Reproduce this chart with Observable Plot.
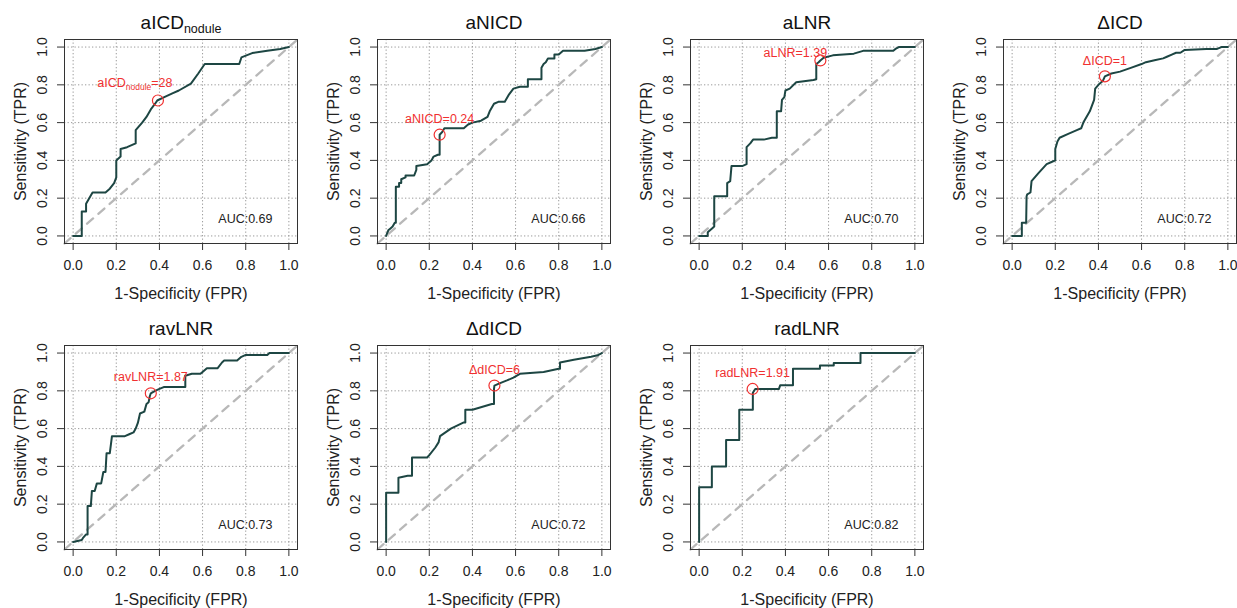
<!DOCTYPE html>
<html><head><meta charset="utf-8">
<script src="https://cdn.jsdelivr.net/npm/d3@7"></script>
<script src="https://cdn.jsdelivr.net/npm/@observablehq/plot@0.6"></script>
<style>
html,body{margin:0;padding:0;background:#fff;overflow:hidden;}
#wrap{position:relative;width:1237px;height:608px;overflow:hidden;font-family:"Liberation Sans",Arial,sans-serif;}
.panel{position:absolute;width:313px;height:302px;}
.panel svg{max-width:none !important;}
</style></head><body><div id="wrap"></div>
<script>
// ---- data ----
const titles = ["aICD", "aNICD", "aLNR", "ΔICD", "ravLNR", "ΔdICD", "radLNR"];
const titleSubscripts = ["nodule", "", "", "", "", "", ""];
const cutoffValues = ["28", "0.24", "1.39", "1", "1.87", "6", "1.91"];
const aucValues = [0.69, 0.66, 0.70, 0.72, 0.73, 0.72, 0.82];
const xTicks = [0, 0.2, 0.4, 0.6, 0.8, 1.0];
const yTicks = [0, 0.2, 0.4, 0.6, 0.8, 1.0];
const xLabel = "1-Specificity (FPR)";
const yLabel = "Sensitivity (TPR)";

// ROC curves: [FPR, TPR]
const rocAICDnodule = [[0,0],[0.04,0],[0.04,0.13],[0.06,0.13],[0.06,0.17],[0.07,0.19],[0.08,0.21],[0.09,0.23],[0.15,0.23],[0.17,0.25],[0.19,0.28],[0.20,0.31],[0.20,0.40],[0.22,0.42],[0.22,0.46],[0.25,0.47],[0.29,0.49],[0.29,0.56],[0.32,0.60],[0.34,0.63],[0.36,0.67],[0.38,0.70],[0.39,0.717],[0.42,0.734],[0.46,0.755],[0.49,0.77],[0.546,0.806],[0.58,0.86],[0.61,0.91],[0.77,0.91],[0.78,0.945],[0.83,0.968],[0.90,0.98],[0.96,0.99],[1,1]];
const rocANICD = [[0,0],[0.01,0.03],[0.02,0.04],[0.03,0.05],[0.04,0.07],[0.045,0.07],[0.045,0.26],[0.06,0.26],[0.06,0.28],[0.07,0.28],[0.07,0.30],[0.09,0.31],[0.09,0.32],[0.13,0.32],[0.14,0.35],[0.14,0.37],[0.19,0.38],[0.21,0.40],[0.22,0.42],[0.24,0.43],[0.248,0.43],[0.248,0.536],[0.26,0.55],[0.27,0.57],[0.36,0.57],[0.38,0.59],[0.40,0.60],[0.44,0.61],[0.47,0.63],[0.48,0.66],[0.49,0.68],[0.50,0.70],[0.52,0.71],[0.55,0.71],[0.57,0.75],[0.59,0.78],[0.62,0.79],[0.657,0.79],[0.657,0.83],[0.72,0.83],[0.72,0.89],[0.73,0.91],[0.74,0.92],[0.75,0.94],[0.78,0.94],[0.78,0.96],[0.80,0.96],[0.82,0.98],[0.92,0.98],[0.97,0.99],[1,1]];
const rocALNR = [[0,0],[0.04,0],[0.04,0.02],[0.06,0.04],[0.07,0.05],[0.07,0.21],[0.13,0.21],[0.13,0.28],[0.144,0.29],[0.15,0.37],[0.20,0.37],[0.22,0.38],[0.22,0.47],[0.237,0.49],[0.25,0.51],[0.30,0.51],[0.337,0.52],[0.36,0.52],[0.36,0.66],[0.38,0.66],[0.384,0.72],[0.395,0.735],[0.40,0.77],[0.42,0.78],[0.45,0.814],[0.53,0.826],[0.543,0.83],[0.543,0.91],[0.554,0.92],[0.562,0.929],[0.577,0.943],[0.62,0.956],[0.717,0.965],[0.76,0.98],[0.90,0.98],[0.91,0.99],[0.925,1.0],[1,1]];
const rocDeltaICD = [[0,0],[0.045,0],[0.045,0.07],[0.065,0.07],[0.067,0.21],[0.07,0.22],[0.085,0.23],[0.09,0.29],[0.12,0.33],[0.16,0.38],[0.18,0.39],[0.20,0.40],[0.20,0.46],[0.21,0.50],[0.22,0.52],[0.26,0.54],[0.30,0.56],[0.32,0.57],[0.33,0.60],[0.36,0.66],[0.38,0.72],[0.385,0.78],[0.40,0.80],[0.42,0.82],[0.43,0.845],[0.46,0.86],[0.50,0.87],[0.55,0.89],[0.60,0.91],[0.62,0.92],[0.66,0.93],[0.70,0.94],[0.72,0.95],[0.74,0.96],[0.76,0.97],[0.78,0.97],[0.80,0.985],[0.90,0.99],[0.95,0.99],[0.97,1.0],[1,1]];
const rocRavLNR = [[0,0],[0.04,0.01],[0.045,0.02],[0.06,0.04],[0.067,0.04],[0.067,0.19],[0.082,0.19],[0.087,0.27],[0.10,0.27],[0.11,0.31],[0.13,0.31],[0.14,0.37],[0.15,0.37],[0.155,0.47],[0.17,0.47],[0.18,0.56],[0.24,0.56],[0.26,0.57],[0.28,0.58],[0.29,0.60],[0.30,0.63],[0.31,0.68],[0.33,0.69],[0.34,0.73],[0.35,0.74],[0.355,0.77],[0.36,0.787],[0.38,0.80],[0.40,0.81],[0.42,0.82],[0.52,0.82],[0.52,0.88],[0.55,0.89],[0.59,0.89],[0.60,0.90],[0.62,0.92],[0.67,0.92],[0.69,0.95],[0.70,0.96],[0.76,0.96],[0.78,0.98],[0.80,0.99],[0.90,0.99],[0.91,1.0],[1,1]];
const rocDeltaDICD = [[0,0],[0,0.26],[0.057,0.26],[0.057,0.34],[0.10,0.35],[0.12,0.35],[0.12,0.447],[0.19,0.447],[0.20,0.46],[0.228,0.50],[0.243,0.527],[0.25,0.56],[0.30,0.60],[0.36,0.633],[0.367,0.633],[0.367,0.70],[0.40,0.70],[0.49,0.73],[0.50,0.73],[0.50,0.81],[0.502,0.828],[0.52,0.837],[0.56,0.855],[0.59,0.87],[0.62,0.89],[0.73,0.90],[0.80,0.917],[0.806,0.917],[0.806,0.95],[0.87,0.965],[0.95,0.98],[0.98,0.988],[1,1]];
const rocRadLNR = [[0,0],[0,0.29],[0.059,0.29],[0.059,0.40],[0.125,0.40],[0.125,0.54],[0.186,0.54],[0.186,0.70],[0.249,0.70],[0.249,0.79],[0.26,0.81],[0.37,0.81],[0.376,0.83],[0.435,0.83],[0.435,0.917],[0.56,0.917],[0.56,0.934],[0.624,0.934],[0.624,0.947],[0.748,0.947],[0.748,1.0],[1,1]];

// best cut-off points: [FPR, TPR]
const cutoffPoints = [[0.393,0.717],[0.248,0.536],[0.562,0.929],[0.43,0.845],[0.36,0.787],[0.502,0.828],[0.248,0.81]];

const curves = [rocAICDnodule, rocANICD, rocALNR, rocDeltaICD, rocRavLNR, rocDeltaDICD, rocRadLNR];

// ---- layout / style ----
const W = 313, H = 302, ML = 64, MR = 16, MT = 39, MB = 59;
const colStep = 313, rowStep = 306;
const dom = [-0.04, 1.04];
const labelOffsets = [[-23,-18],[0,-16],[-25,-7],[0,-15],[0,-16],[0,-16],[0,-16]];
const RED = "#f03030";
const FONT = '"Liberation Sans", Arial, sans-serif';
const fmt = d3.format(".1f");
const NS = "http://www.w3.org/2000/svg";

function addSubscript(el, main, sub, rest, subSize, shift) {
  if (!el || !sub) return;
  el.textContent = "";
  const t1 = document.createElementNS(NS, "tspan"); t1.textContent = main; el.appendChild(t1);
  const t2 = document.createElementNS(NS, "tspan"); t2.textContent = sub;
  t2.setAttribute("font-size", subSize); t2.setAttribute("dy", shift); el.appendChild(t2);
  if (rest) {
    const t3 = document.createElementNS(NS, "tspan"); t3.textContent = rest;
    t3.setAttribute("dy", -shift); el.appendChild(t3);
  }
}
function findText(svg, s) {
  return Array.from(svg.querySelectorAll("text")).find(t => t.textContent === s);
}

const wrap = document.getElementById("wrap");
curves.forEach((curve, i) => {
  const pts = curve.map(([x, y]) => ({x, y}));
  const cut = {x: cutoffPoints[i][0], y: cutoffPoints[i][1]};
  const title = titles[i] + titleSubscripts[i];
  const label = titles[i] + titleSubscripts[i] + "=" + cutoffValues[i];
  const svg = Plot.plot({
    width: W, height: H,
    marginLeft: ML, marginRight: MR, marginTop: MT, marginBottom: MB,
    style: {fontFamily: FONT, background: "transparent", overflow: "visible", color: "#222", maxWidth: "none"},
    x: {domain: dom, label: null},
    y: {domain: dom, label: null},
    marks: [
      Plot.gridX({ticks: xTicks, stroke: "#9a9a9a", strokeOpacity: 1, strokeDasharray: "1.3,2.2", strokeWidth: 1}),
      Plot.gridY({ticks: yTicks, stroke: "#9a9a9a", strokeOpacity: 1, strokeDasharray: "1.3,2.2", strokeWidth: 1}),
      Plot.line(dom, {x: d => d, y: d => d, stroke: "#b8b8b8", strokeWidth: 2.3, strokeDasharray: "8,7"}),
      Plot.line(pts, {x: "x", y: "y", stroke: "#1d4643", strokeWidth: 2}),
      Plot.dot([cut], {x: "x", y: "y", r: 5.5, stroke: RED, strokeWidth: 1.2, fill: "none"}),
      Plot.text([cut], {x: "x", y: "y", text: () => label, dx: labelOffsets[i][0], dy: labelOffsets[i][1],
        fill: RED, fontSize: 12.5, textAnchor: "middle", lineAnchor: "middle"}),
      Plot.frame({stroke: "#333", strokeWidth: 1}),
      Plot.axisX({ticks: xTicks, tickSize: 7, tickFormat: () => "", label: null, stroke: "#333"}),
      Plot.axisY({ticks: yTicks, tickSize: 7, tickFormat: () => "", label: null, stroke: "#333"}),
      Plot.text(xTicks, {x: d => d, frameAnchor: "bottom", dy: 22, text: d => fmt(d), fontSize: 14,
        textAnchor: "middle", lineAnchor: "middle", fill: "#222"}),
      Plot.text(yTicks, {y: d => d, frameAnchor: "left", dx: -22, rotate: -90, text: d => fmt(d), fontSize: 14,
        textAnchor: "middle", lineAnchor: "middle", fill: "#222"}),
      Plot.text([xLabel], {frameAnchor: "bottom", dy: 50, text: d => d, fontSize: 16,
        textAnchor: "middle", lineAnchor: "middle", fill: "#222"}),
      Plot.text([yLabel], {frameAnchor: "left", dx: -44, rotate: -90, text: d => d, fontSize: 16,
        textAnchor: "middle", lineAnchor: "middle", fill: "#222"}),
      Plot.text([title], {frameAnchor: "top", dy: -17, text: d => d, fontSize: 19,
        textAnchor: "middle", lineAnchor: "middle", fill: "#111"}),
      Plot.text([aucValues[i]], {frameAnchor: "bottom-right", dx: -25, dy: -25, text: d => "AUC:" + d.toFixed(2),
        fontSize: 12.5, textAnchor: "end", lineAnchor: "middle", fill: "#222"})
    ]
  });
  addSubscript(findText(svg, title), titles[i], titleSubscripts[i], "", 12.5, 4);
  addSubscript(findText(svg, label), titles[i], titleSubscripts[i], "=" + cutoffValues[i], 8.5, 3);
  const div = document.createElement("div");
  div.className = "panel";
  div.style.left = ((i % 4) * colStep) + "px";
  div.style.top = (Math.floor(i / 4) * rowStep) + "px";
  div.appendChild(svg);
  wrap.appendChild(div);
});
</script>
</body></html>
